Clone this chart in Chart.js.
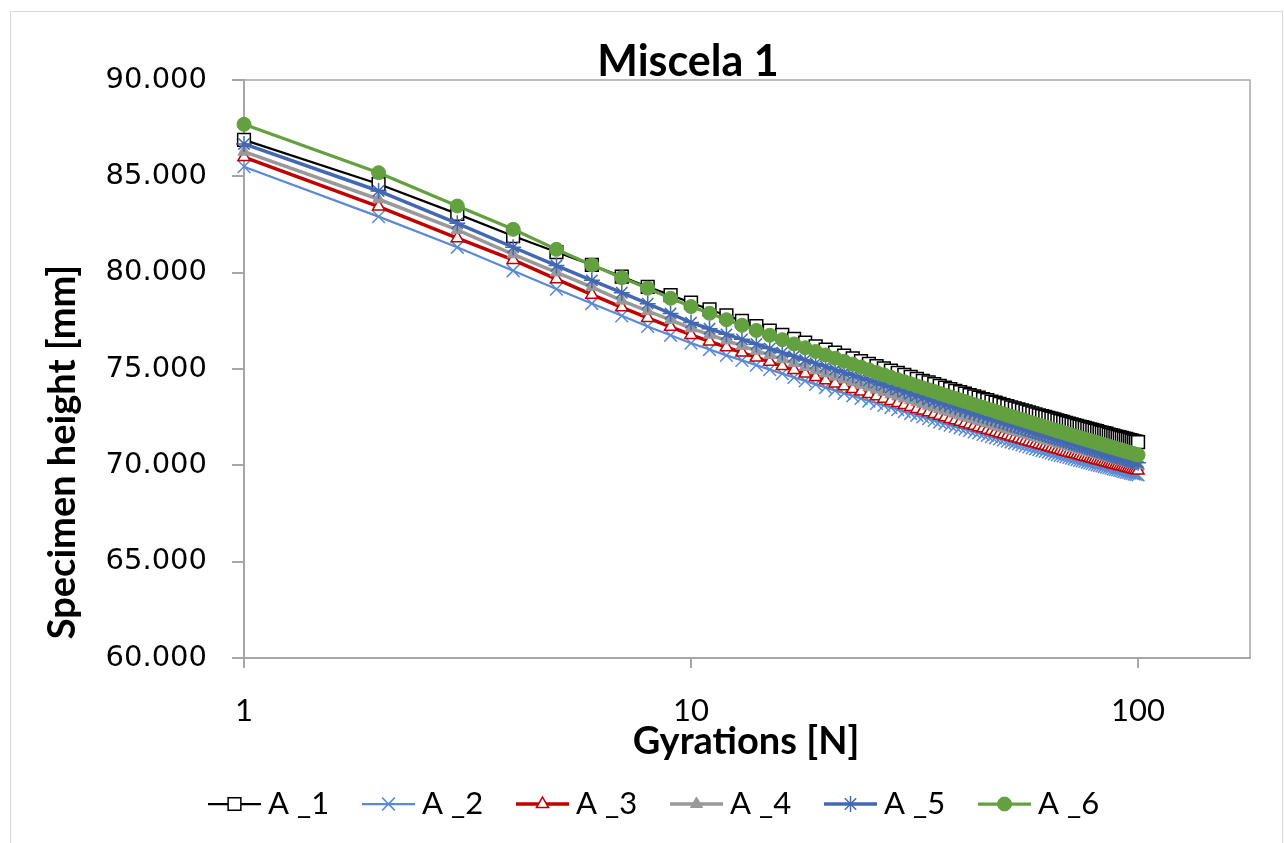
<!DOCTYPE html>
<html>
<head>
<meta charset="utf-8">
<title>Miscela 1</title>
<script src="https://cdn.jsdelivr.net/npm/chart.js@4.4.1/dist/chart.umd.min.js"></script>
<style>
body { margin: 0; background: #ffffff; }
</style>
</head>
<body>
<canvas id="chart_miscela" width="1284" height="843"></canvas>
<script>
var gyrations = [
        1, 2, 3, 4, 5, 6, 7, 8, 9, 10,
        11, 12, 13, 14, 15, 16, 17, 18, 19, 20,
        21, 22, 23, 24, 25, 26, 27, 28, 29, 30,
        31, 32, 33, 34, 35, 36, 37, 38, 39, 40,
        41, 42, 43, 44, 45, 46, 47, 48, 49, 50,
        51, 52, 53, 54, 55, 56, 57, 58, 59, 60,
        61, 62, 63, 64, 65, 66, 67, 68, 69, 70,
        71, 72, 73, 74, 75, 76, 77, 78, 79, 80,
        81, 82, 83, 84, 85, 86, 87, 88, 89, 90,
        91, 92, 93, 94, 95, 96, 97, 98, 99, 100
];

var height_a1 = [
        86.89, 84.60, 83.05, 81.90, 81.07, 80.40, 79.80, 79.26, 78.84, 78.44,
        78.09, 77.78, 77.50, 77.23, 76.99, 76.77, 76.56, 76.37, 76.18, 76.01,
        75.85, 75.69, 75.55, 75.41, 75.27, 75.15, 75.03, 74.91, 74.80, 74.69,
        74.59, 74.49, 74.39, 74.30, 74.21, 74.12, 74.04, 73.95, 73.87, 73.80,
        73.72, 73.65, 73.58, 73.51, 73.44, 73.38, 73.31, 73.25, 73.19, 73.13,
        73.07, 73.01, 72.96, 72.91, 72.85, 72.80, 72.75, 72.70, 72.65, 72.60,
        72.55, 72.51, 72.46, 72.42, 72.38, 72.33, 72.29, 72.25, 72.21, 72.17,
        72.13, 72.09, 72.05, 72.01, 71.98, 71.94, 71.91, 71.87, 71.84, 71.80,
        71.77, 71.73, 71.70, 71.67, 71.64, 71.60, 71.57, 71.54, 71.51, 71.48,
        71.45, 71.42, 71.39, 71.37, 71.34, 71.31, 71.28, 71.25, 71.23, 71.20
];
var height_a2 = [
        85.50, 82.91, 81.32, 80.10, 79.15, 78.40, 77.76, 77.21, 76.75, 76.34,
        76.01, 75.71, 75.45, 75.20, 74.97, 74.76, 74.56, 74.38, 74.20, 74.04,
        73.88, 73.74, 73.60, 73.47, 73.34, 73.22, 73.11, 73.00, 72.89, 72.79,
        72.69, 72.60, 72.51, 72.42, 72.33, 72.25, 72.17, 72.09, 72.02, 71.95,
        71.88, 71.81, 71.74, 71.68, 71.61, 71.55, 71.49, 71.43, 71.37, 71.32,
        71.26, 71.21, 71.16, 71.11, 71.06, 71.01, 70.96, 70.91, 70.86, 70.82,
        70.77, 70.73, 70.69, 70.65, 70.60, 70.56, 70.52, 70.49, 70.45, 70.41,
        70.37, 70.34, 70.30, 70.26, 70.23, 70.20, 70.16, 70.13, 70.10, 70.06,
        70.03, 70.00, 69.97, 69.94, 69.91, 69.88, 69.85, 69.82, 69.79, 69.76,
        69.74, 69.71, 69.68, 69.65, 69.63, 69.60, 69.58, 69.55, 69.53, 69.50
];
var height_a3 = [
        86.00, 83.43, 81.79, 80.66, 79.66, 78.86, 78.20, 77.65, 77.19, 76.77,
        76.43, 76.13, 75.85, 75.60, 75.37, 75.15, 74.95, 74.76, 74.58, 74.41,
        74.25, 74.11, 73.96, 73.83, 73.70, 73.58, 73.46, 73.34, 73.23, 73.13,
        73.03, 72.93, 72.84, 72.75, 72.66, 72.57, 72.49, 72.41, 72.34, 72.26,
        72.19, 72.12, 72.05, 71.98, 71.92, 71.85, 71.79, 71.73, 71.67, 71.61,
        71.56, 71.50, 71.45, 71.39, 71.34, 71.29, 71.24, 71.19, 71.14, 71.10,
        71.05, 71.01, 70.96, 70.92, 70.88, 70.83, 70.79, 70.75, 70.71, 70.67,
        70.63, 70.60, 70.56, 70.52, 70.49, 70.45, 70.42, 70.38, 70.35, 70.31,
        70.28, 70.25, 70.22, 70.18, 70.15, 70.12, 70.09, 70.06, 70.03, 70.00,
        69.97, 69.95, 69.92, 69.89, 69.86, 69.84, 69.81, 69.78, 69.76, 69.73
];
var height_a4 = [
        86.28, 83.81, 82.22, 80.95, 80.01, 79.25, 78.55, 78.00, 77.55, 77.11,
        76.78, 76.48, 76.20, 75.95, 75.72, 75.50, 75.30, 75.11, 74.93, 74.77,
        74.61, 74.46, 74.32, 74.18, 74.05, 73.93, 73.81, 73.69, 73.58, 73.48,
        73.38, 73.28, 73.19, 73.09, 73.01, 72.92, 72.84, 72.76, 72.68, 72.60,
        72.53, 72.46, 72.39, 72.32, 72.25, 72.19, 72.13, 72.06, 72.00, 71.95,
        71.89, 71.83, 71.78, 71.72, 71.67, 71.62, 71.57, 71.52, 71.47, 71.42,
        71.37, 71.33, 71.28, 71.24, 71.20, 71.15, 71.11, 71.07, 71.03, 70.99,
        70.95, 70.91, 70.87, 70.83, 70.80, 70.76, 70.72, 70.69, 70.65, 70.62,
        70.59, 70.55, 70.52, 70.49, 70.45, 70.42, 70.39, 70.36, 70.33, 70.30,
        70.27, 70.24, 70.21, 70.18, 70.16, 70.13, 70.10, 70.07, 70.05, 70.02
];
var height_a5 = [
        86.68, 84.24, 82.56, 81.32, 80.37, 79.60, 78.96, 78.39, 77.88, 77.41,
        77.09, 76.80, 76.54, 76.29, 76.06, 75.85, 75.66, 75.47, 75.29, 75.13,
        74.97, 74.82, 74.68, 74.54, 74.41, 74.29, 74.16, 74.05, 73.94, 73.83,
        73.73, 73.63, 73.53, 73.43, 73.34, 73.25, 73.17, 73.09, 73.00, 72.93,
        72.85, 72.77, 72.70, 72.63, 72.56, 72.49, 72.43, 72.36, 72.30, 72.23,
        72.17, 72.11, 72.05, 72.00, 71.94, 71.89, 71.83, 71.78, 71.73, 71.68,
        71.63, 71.58, 71.53, 71.48, 71.43, 71.39, 71.34, 71.30, 71.25, 71.21,
        71.17, 71.12, 71.08, 71.04, 71.00, 70.96, 70.92, 70.88, 70.84, 70.81,
        70.77, 70.73, 70.70, 70.66, 70.62, 70.59, 70.55, 70.52, 70.49, 70.45,
        70.42, 70.39, 70.36, 70.32, 70.29, 70.26, 70.23, 70.20, 70.17, 70.14
];
var height_a6 = [
        87.70, 85.19, 83.46, 82.25, 81.21, 80.40, 79.74, 79.19, 78.67, 78.24,
        77.89, 77.56, 77.27, 77.00, 76.75, 76.52, 76.30, 76.10, 75.91, 75.73,
        75.56, 75.40, 75.25, 75.10, 74.96, 74.82, 74.70, 74.57, 74.45, 74.34,
        74.23, 74.12, 74.02, 73.92, 73.83, 73.73, 73.64, 73.55, 73.47, 73.39,
        73.31, 73.23, 73.15, 73.08, 73.01, 72.93, 72.87, 72.80, 72.73, 72.67,
        72.60, 72.54, 72.48, 72.42, 72.37, 72.31, 72.25, 72.20, 72.14, 72.09,
        72.04, 71.99, 71.94, 71.89, 71.84, 71.79, 71.75, 71.70, 71.66, 71.61,
        71.57, 71.53, 71.49, 71.44, 71.40, 71.36, 71.32, 71.28, 71.25, 71.21,
        71.17, 71.13, 71.10, 71.06, 71.02, 70.99, 70.95, 70.92, 70.89, 70.85,
        70.82, 70.79, 70.76, 70.72, 70.69, 70.66, 70.63, 70.60, 70.57, 70.54
];

var series_names = ["A _1", "A _2", "A _3", "A _4", "A _5", "A _6"];
var x_ticks = [1, 10, 100];
var y_min = 60;
var y_max = 90;
var y_step = 5;

var chart_title = "Miscela 1";
var x_title = "Gyrations [N]";
var y_title = "Specimen height [mm]";

var axis_grey = "#a6a6a6";

function to_points(values) {
        return values.map(function(v, i) { return { x: gyrations[i], y: v }; });
}

function make_dataset(name, values, style) {
        return Object.assign({
                label: name,
                data: to_points(values),
                fill: false,
                tension: 0,
                clip: false,
                pointHoverRadius: 0
        }, style);
}

var datasets = [
        make_dataset(series_names[0], height_a1, {
                borderColor: "#000000", borderWidth: 2.25,
                pointStyle: "rect", pointRadius: 9, pointBorderWidth: 1.5,
                pointBorderColor: "#000000", pointBackgroundColor: "#ffffff", order: 6
        }),
        make_dataset(series_names[1], height_a2, {
                borderColor: "#5a8ad4", borderWidth: 2.25,
                pointStyle: "crossRot", pointRadius: 9, pointBorderWidth: 1.5,
                pointBorderColor: "#5a8ad4", pointBackgroundColor: "#5a8ad4", order: 5
        }),
        make_dataset(series_names[2], height_a3, {
                borderColor: "#c00000", borderWidth: 3.5,
                pointStyle: "triangle", pointRadius: 7, pointBorderWidth: 1.5,
                pointBorderColor: "#c00000", pointBackgroundColor: "#ffffff", order: 4
        }),
        make_dataset(series_names[3], height_a4, {
                borderColor: "#999999", borderWidth: 3.5,
                pointStyle: "triangle", pointRadius: 7, pointBorderWidth: 1,
                pointBorderColor: "#999999", pointBackgroundColor: "#999999", order: 3
        }),
        make_dataset(series_names[4], height_a5, {
                borderColor: "#4268b3", borderWidth: 3.5,
                pointStyle: "star", pointRadius: 8, pointBorderWidth: 1.5,
                pointBorderColor: "#4268b3", pointBackgroundColor: "#4268b3", order: 2
        }),
        make_dataset(series_names[5], height_a6, {
                borderColor: "#63a03f", borderWidth: 3.25,
                pointStyle: "circle", pointRadius: 7, pointBorderWidth: 1,
                pointBorderColor: "#63a03f", pointBackgroundColor: "#63a03f", order: 1
        })
];

// frame, titles and the legend are drawn by hand so they sit where Excel put them
var decor_plugin = {
        id: "decor",
        beforeDraw: function(chart) {
                var ctx = chart.ctx;
                ctx.save();
                ctx.fillStyle = "#ffffff";
                ctx.fillRect(0, 0, chart.width, chart.height);
                ctx.strokeStyle = "#d9d9d9";
                ctx.lineWidth = 1;
                ctx.strokeRect(10.5, 11.5, chart.width - 12, chart.height);
                ctx.restore();
        },
        afterDraw: function(chart) {
                var ctx = chart.ctx;
                var area = chart.chartArea;
                ctx.save();

                ctx.strokeStyle = axis_grey;
                ctx.lineWidth = 1.5;
                ctx.beginPath();
                ctx.moveTo(area.left, area.top);
                ctx.lineTo(area.right, area.top);
                ctx.lineTo(area.right, area.bottom);
                ctx.stroke();

                ctx.fillStyle = "#000000";
                ctx.textAlign = "center";
                ctx.textBaseline = "alphabetic";
                ctx.font = "bold 43px Lato";
                ctx.fillText(chart_title, 688, 76);

                ctx.font = "bold 38px Lato";
                ctx.fillText(x_title, 746, 754);

                ctx.save();
                ctx.translate(75, 452);
                ctx.rotate(-Math.PI / 2);
                ctx.fillText(y_title, 0, 0);
                ctx.restore();

                draw_legend(chart, ctx);
                ctx.restore();
        }
};

function draw_legend(chart, ctx) {
        var y = 804;
        for (let i = 0; i < chart.data.datasets.length; i++) {
                const ds = chart.data.datasets[i];
                const x0 = 208 + 154 * i;
                ctx.strokeStyle = ds.borderColor;
                ctx.lineWidth = ds.borderWidth;
                ctx.beginPath();
                ctx.moveTo(x0, y);
                ctx.lineTo(x0 + 53, y);
                ctx.stroke();

                ctx.strokeStyle = ds.pointBorderColor;
                ctx.fillStyle = ds.pointBackgroundColor;
                ctx.lineWidth = ds.pointBorderWidth;
                Chart.helpers.drawPoint(ctx, {
                        pointStyle: ds.pointStyle,
                        radius: ds.pointRadius,
                        borderWidth: ds.pointBorderWidth,
                        rotation: 0
                }, x0 + 26.5, y);

                ctx.fillStyle = "#000000";
                ctx.font = "31px Lato";
                ctx.textAlign = "left";
                ctx.textBaseline = "middle";
                ctx.fillText(ds.label, x0 + 60, y);
        }
}

new Chart("chart_miscela", {
        type: "line",
        data: { datasets: datasets },
        plugins: [decor_plugin],
        options: {
                responsive: false,
                devicePixelRatio: 1,
                animation: false,
                events: [],
                layout: { padding: { left: 0, right: 34, top: 80, bottom: 63 } },
                plugins: {
                        legend: { display: false },
                        title: { display: false },
                        tooltip: { enabled: false }
                },
                scales: {
                        x: {
                                type: "logarithmic",
                                min: 1,
                                max: 178,
                                afterBuildTicks: function(scale) {
                                        scale.ticks = x_ticks.map(function(v) { return { value: v }; });
                                },
                                afterFit: function(scale) { scale.height = 122; },
                                ticks: {
                                        autoSkip: false,
                                        maxRotation: 0,
                                        padding: 24,
                                        color: "#000000",
                                        font: { family: "Lato", size: 31 },
                                        callback: function(value) { return String(value); }
                                },
                                grid: { drawOnChartArea: false, tickLength: 10, color: axis_grey, lineWidth: 2 },
                                border: { color: axis_grey, width: 2 }
                        },
                        y: {
                                min: y_min,
                                max: y_max,
                                afterFit: function(scale) { scale.width = 244; },
                                ticks: {
                                        stepSize: y_step,
                                        padding: 25,
                                        color: "#000000",
                                        font: { family: "DejaVu Sans", size: 29 },
                                        callback: function(value) { return value.toFixed(3); }
                                },
                                grid: { drawOnChartArea: false, tickLength: 12, color: axis_grey, lineWidth: 2 },
                                border: { color: axis_grey, width: 2 }
                        }
                }
        }
});
</script>
</body>
</html>
